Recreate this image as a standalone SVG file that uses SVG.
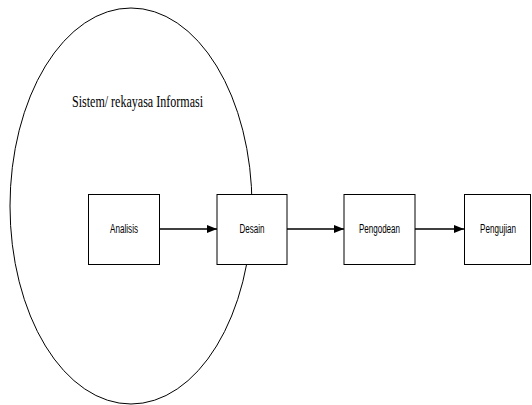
<svg xmlns="http://www.w3.org/2000/svg" width="532" height="405" viewBox="0 0 532 405">
<style>
.box{fill:#fff;stroke:#000;stroke-width:1}
.lbl{font-family:"Liberation Sans",Arial,sans-serif;font-size:12px;fill:#000;text-anchor:middle}
.ttl{font-family:"Liberation Serif","Times New Roman",serif;font-size:16px;fill:#000}
.conn{stroke:#000;stroke-width:1.3;fill:none;marker-end:url(#ah)}
</style>
<defs>
<marker id="ah" markerWidth="10" markerHeight="8" refX="10" refY="4" orient="auto" markerUnits="userSpaceOnUse">
<path d="M0,0 L10,4 L0,8 Z" fill="#000"/>
</marker>
</defs>
<g id="sistem">
<ellipse cx="131" cy="206" rx="121" ry="198" fill="none" stroke="#000" stroke-width="1"/>
<text class="ttl" x="72" y="107" textLength="131" lengthAdjust="spacingAndGlyphs">Sistem/ rekayasa Informasi</text>
</g>
<g id="connectors">
<line class="conn" x1="159" y1="229" x2="217" y2="229"/>
<line class="conn" x1="287" y1="229" x2="344" y2="229"/>
<line class="conn" x1="415" y1="229" x2="464" y2="229"/>
</g>
<g id="analisis">
<rect class="box" x="88.5" y="194.5" width="71" height="70"/>
<text class="lbl" x="124" y="233" textLength="28" lengthAdjust="spacingAndGlyphs">Analisis</text>
</g>
<g id="desain">
<rect class="box" x="217" y="194.5" width="70" height="70"/>
<text class="lbl" x="252" y="233" textLength="25" lengthAdjust="spacingAndGlyphs">Desain</text>
</g>
<g id="pengodean">
<rect class="box" x="344" y="194.5" width="71" height="70"/>
<text class="lbl" x="379.5" y="233" textLength="41" lengthAdjust="spacingAndGlyphs">Pengodean</text>
</g>
<g id="pengujian">
<rect class="box" x="464.5" y="194.5" width="66" height="70"/>
<text class="lbl" x="498" y="233" textLength="36" lengthAdjust="spacingAndGlyphs">Pengujian</text>
</g>
</svg>
